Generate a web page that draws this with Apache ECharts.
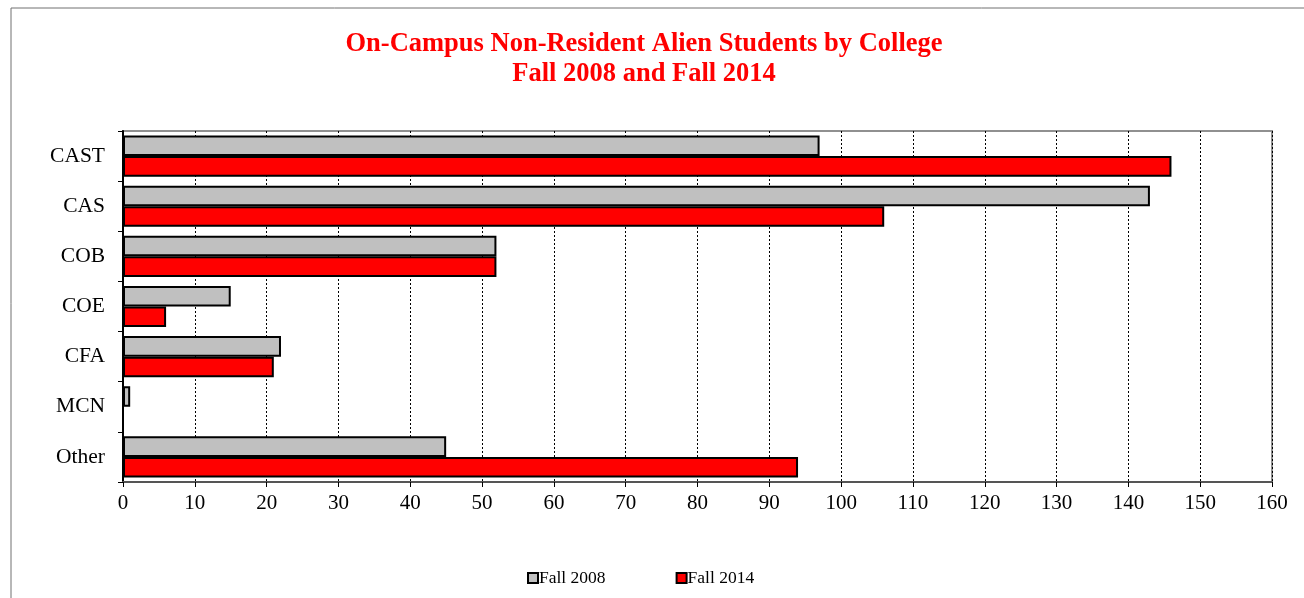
<!DOCTYPE html>
<html>
<head>
<meta charset="utf-8">
<script src="https://cdn.jsdelivr.net/npm/echarts@6/dist/echarts.min.js"></script>
<style>
  html, body { margin: 0; padding: 0; background: #fff; }
  #chart { width: 1304px; height: 598px; }
</style>
</head>
<body>
<div id="chart"></div>
<script>
var colleges = ['CAST', 'CAS', 'COB', 'COE', 'CFA', 'MCN', 'Other'];
var fall2008 = [97, 143, 52, 15, 22, 1, 45];
var fall2014 = [146, 106, 52, 6, 21, 0, 94];

var serif = '"Liberation Serif", "DejaVu Serif", serif';

echarts.init(document.getElementById('chart')).setOption({
  backgroundColor: '#fff',
  animation: false,
  title: {
    text: 'On-Campus Non-Resident Alien Students by College\nFall 2008 and Fall 2014',
    left: 639,
    textAlign: 'center',
    top: 24,
    textStyle: {
      fontFamily: serif,
      fontWeight: 'bold',
      fontSize: 26.5,
      color: '#ff0000',
      lineHeight: 30
    }
  },
  graphic: [{
    type: 'rect',
    shape: { x: 11, y: 8, width: 1310, height: 610 },
    style: { fill: 'none', stroke: '#707070', lineWidth: 1 },
    silent: true
  }],
  legend: {
    left: 522,
    top: 564,
    itemWidth: 10,
    itemHeight: 10,
    itemGap: 70,
    icon: 'rect',
    textStyle: { fontFamily: serif, fontSize: 17.5, color: '#000', padding: [0, 0, 0, -4] },
    data: ['Fall 2008', 'Fall 2014']
  },
  grid: {
    left: 123,
    right: 32,
    top: 131,
    bottom: 116,
    show: true,
    borderColor: '#909090',
    borderWidth: 2
  },
  xAxis: {
    type: 'value',
    min: 0,
    max: 160,
    interval: 10,
    axisLine: { show: true, lineStyle: { color: '#555', width: 2 } },
    axisTick: { show: true, length: 5, lineStyle: { color: '#000' } },
    axisLabel: { fontFamily: serif, fontSize: 21, color: '#000', margin: 11 },
    splitLine: { show: true, lineStyle: { color: '#000', type: [2, 2], width: 1 } }
  },
  yAxis: {
    type: 'category',
    inverse: true,
    data: colleges,
    axisLine: { show: true, lineStyle: { color: '#000', width: 2 } },
    axisTick: { show: true, length: 5, lineStyle: { color: '#000' } },
    axisLabel: { fontFamily: serif, fontSize: 21.5, color: '#000', margin: 18 }
  },
  series: [{
    name: 'Fall 2008',
    type: 'bar',
    data: fall2008,
    barGap: '0%',
    barCategoryGap: '18%',
    itemStyle: { color: '#c0c0c0', borderColor: '#000', borderWidth: 2 }
  }, {
    name: 'Fall 2014',
    type: 'bar',
    data: fall2014,
    itemStyle: { color: '#ff0000', borderColor: '#000', borderWidth: 2 }
  }]
});
</script>
</body>
</html>
